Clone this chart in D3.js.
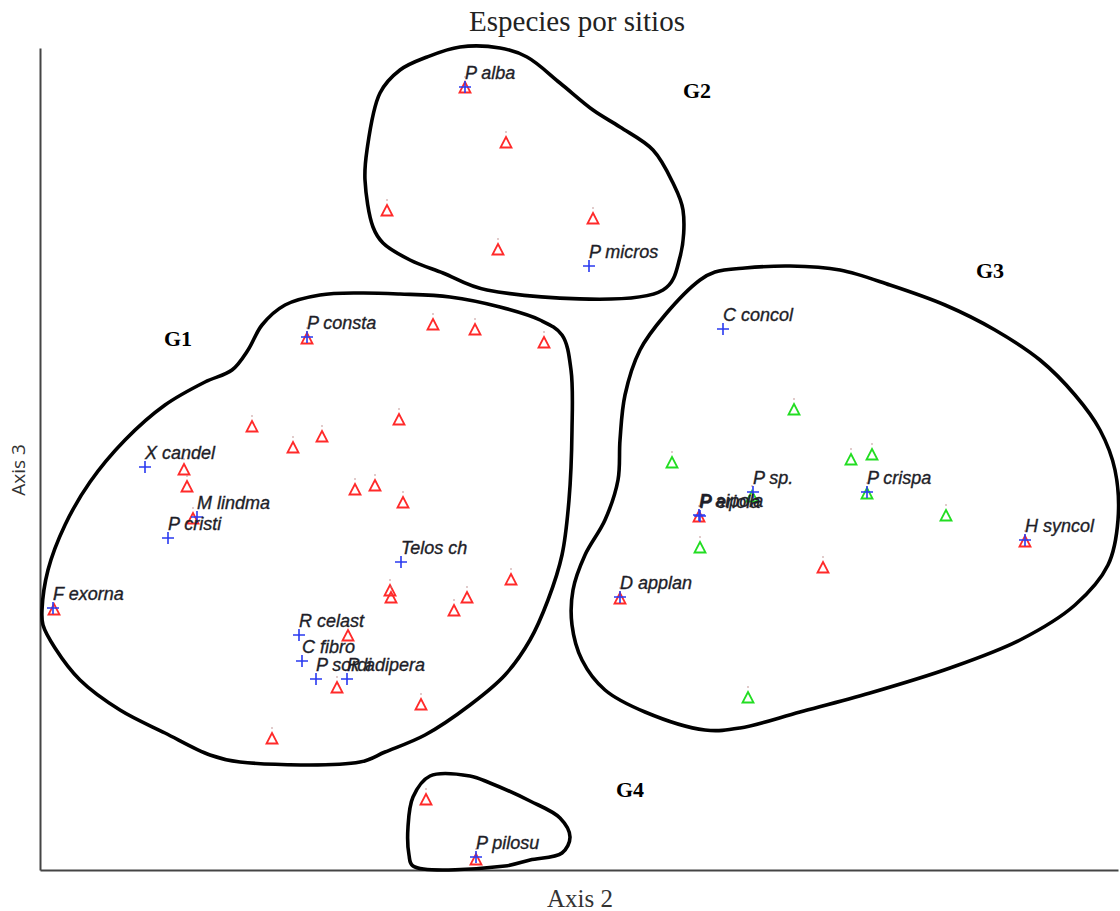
<!DOCTYPE html>
<html>
<head>
<meta charset="utf-8">
<script src="https://cdn.jsdelivr.net/npm/d3@7"></script>
<style>
  html, body { margin: 0; padding: 0; background: #fff; }
  svg { display: block; }
</style>
</head>
<body>
<svg id="chart" width="1120" height="911"></svg>
<script>
// Ordination scores (Axis 2, Axis 3)

// Sample sites, by colour class
const siteX = [2.125, 2.33, 1.735, 2.765, 2.29, 1.335, 1.965, 2.175, 2.52, 1.06, 1.265, 1.41, 1.795,
  0.72, 0.735, 1.575, 1.675, 1.815, 0.765, 2.355, 1.75, 1.755, 2.135, 2.07, 0.07, 1.54, 1.485, 1.905,
  1.16, 1.93, 2.18, 3.295, 4.925, 3.915, 2.90,
  3.77, 3.16, 4.055, 4.16, 4.53, 3.30, 3.54, 3.56, 4.135];
const siteY = [3.91, 3.635, 3.295, 3.255, 3.10, 2.655, 2.725, 2.70, 2.635, 2.215, 2.11, 2.165, 2.25,
  2.00, 1.915, 1.90, 1.92, 1.835, 1.755, 1.45, 1.395, 1.36, 1.36, 1.295, 1.30, 1.17, 0.91, 0.825,
  0.655, 0.35, 0.05, 1.765, 1.64, 1.51, 1.355,
  2.30, 2.035, 2.05, 2.075, 1.77, 1.61, 0.86, 1.865, 1.88];
const siteClass = ["a","a","a","a","a","a","a","a","a","a","a","a","a",
  "a","a","a","a","a","a","a","a","a","a","a","a","a","a","a",
  "a","a","a","a","a","a","a",
  "b","b","b","b","b","b","b","b","b"];

// Species
const speciesNames = ["P alba", "P micros", "P consta", "X candel", "M lindma", "P cristi", "Telos ch",
  "F exorna", "R celast", "C fibro", "P sordi", "R adipera", "P pilosu", "C concol", "P sp.",
  "P crispa", "P aipola", "P eriola", "H syncol", "D applan"];
const speciesX = [2.125, 2.745, 1.335, 0.525, 0.785, 0.64, 1.805, 0.065, 1.295, 1.31, 1.38, 1.535,
  2.18, 3.415, 3.565, 4.135, 3.295, 3.30, 4.925, 2.90];
const speciesY = [3.915, 3.02, 2.665, 2.015, 1.765, 1.66, 1.54, 1.31, 1.175, 1.045, 0.955, 0.955,
  0.065, 2.705, 1.89, 1.89, 1.775, 1.77, 1.65, 1.365];

// Group outlines
const groupNames = ["G1", "G2", "G3", "G4"];
const groupLabelX = [0.69, 3.285, 4.75, 2.95];
const groupLabelY = [2.66, 3.90, 3.00, 0.405];
const g1Outline = [[0.01,1.30],[0.04,1.50],[0.125,1.725],[0.25,1.94],[0.425,2.15],[0.625,2.325],
  [0.825,2.44],[0.96,2.50],[1.04,2.60],[1.11,2.725],[1.225,2.825],[1.40,2.875],[1.60,2.885],
  [1.80,2.88],[2.05,2.865],[2.30,2.815],[2.50,2.75],[2.61,2.675],[2.655,2.50],[2.66,2.20],
  [2.645,1.85],[2.61,1.575],[2.54,1.35],[2.45,1.15],[2.325,0.975],[2.15,0.825],[1.925,0.675],
  [1.725,0.59],[1.60,0.54],[1.00,0.54],[0.85,0.575],[0.625,0.685],[0.40,0.80],[0.20,0.95],
  [0.075,1.11],[0.015,1.225]];
const g2Outline = [[1.70,3.885],[1.635,3.60],[1.625,3.45],[1.665,3.215],[1.715,3.135],[1.85,3.05],
  [2.015,2.985],[2.235,2.90],[3.115,2.90],[3.20,3.065],[3.215,3.30],[3.165,3.435],[3.065,3.60],
  [2.90,3.715],[2.765,3.80],[2.60,3.935],[2.435,4.065],[2.30,4.11],[2.10,4.115],[1.935,4.065],
  [1.80,4.00]];
const g3Outline = [[3.30,2.95],[3.125,2.775],[3.00,2.60],[2.925,2.375],[2.90,2.15],[2.89,1.95],
  [2.825,1.75],[2.725,1.575],[2.665,1.40],[2.66,1.225],[2.71,1.05],[2.825,0.90],[3.025,0.79],
  [3.325,0.70],[3.50,0.71],[3.80,0.79],[4.15,0.885],[4.55,1.01],[4.90,1.15],[5.175,1.325],
  [5.34,1.525],[5.39,1.75],[5.375,2.00],[5.30,2.20],[5.175,2.375],[5.00,2.55],[4.775,2.70],
  [4.525,2.825],[4.25,2.925],[4.00,3.00],[3.75,3.02],[3.525,3.01],[3.375,2.99]];
const g4Outline = [[1.865,0.365],[1.95,0.47],[2.15,0.47],[2.25,0.435],[2.45,0.345],[2.60,0.26],
  [2.65,0.165],[2.61,0.085],[2.45,0.05],[2.325,0.02],[1.865,0.02],[1.845,0.075],[1.84,0.215]];

const svg = d3.select("#chart");
const margin = { left: 40, right: 2, top: 48, bottom: 41 };
const W = 1120, H = 911;

const x = d3.scaleLinear().domain([0, 5.39]).range([margin.left, W - margin.right]);
const y = d3.scaleLinear().domain([0, 4.11]).range([H - margin.bottom, margin.top]);

// Title and axis titles
svg.append("text")
  .attr("x", 577).attr("y", 31)
  .attr("text-anchor", "middle")
  .attr("font-family", "'Liberation Serif', 'DejaVu Serif', serif")
  .attr("font-size", 29)
  .attr("fill", "#222")
  .text("Especies por sitios");

svg.append("text")
  .attr("x", 580).attr("y", 907)
  .attr("text-anchor", "middle")
  .attr("font-family", "'Liberation Serif', 'DejaVu Serif', serif")
  .attr("font-size", 25)
  .attr("fill", "#333")
  .text("Axis 2");

svg.append("text")
  .attr("transform", "translate(25,470) rotate(-90)")
  .attr("text-anchor", "middle")
  .attr("font-family", "'Open Sans', 'Liberation Sans', sans-serif")
  .attr("font-size", 19)
  .attr("fill", "#333")
  .text("Axis 3");

// Axis lines (no ticks)
const xAxis = d3.axisBottom(x).tickValues([]).tickSizeOuter(0);
const yAxis = d3.axisLeft(y).tickValues([]).tickSizeOuter(0);
svg.append("g").attr("transform", `translate(0,${y(0)})`).call(xAxis)
  .select(".domain").attr("stroke", "#444").attr("stroke-width", 2);
svg.append("g").attr("transform", `translate(${x(0)},0)`).call(yAxis)
  .select(".domain").attr("stroke", "#444").attr("stroke-width", 2);

// Group outlines
const outline = d3.line()
  .x(d => x(d[0])).y(d => y(d[1]))
  .curve(d3.curveCatmullRomClosed.alpha(0.5));
svg.append("g").selectAll("path")
  .data([g1Outline, g2Outline, g3Outline, g4Outline])
  .join("path")
  .attr("d", outline)
  .attr("fill", "none")
  .attr("stroke", "#000")
  .attr("stroke-width", 3.6)
  .attr("stroke-linejoin", "round");

// Group labels
svg.append("g").selectAll("text")
  .data(groupNames)
  .join("text")
  .attr("x", (d, i) => x(groupLabelX[i]))
  .attr("y", (d, i) => y(groupLabelY[i]))
  .attr("dy", "0.35em")
  .attr("text-anchor", "middle")
  .attr("font-family", "'Liberation Serif', 'DejaVu Serif', serif")
  .attr("font-weight", "bold")
  .attr("font-size", 22)
  .attr("fill", "#000")
  .text(d => d);

// Sites: open triangles with a small point above
const siteColor = { a: "#ff2a2a", b: "#22dd22" };
const sites = svg.append("g").selectAll("g")
  .data(siteX.map((v, i) => ({ x: v, y: siteY[i], c: siteClass[i] })))
  .join("g")
  .attr("transform", d => `translate(${x(d.x)},${y(d.y)})`);
sites.append("path")
  .attr("d", "M0,-6 L5.5,4.5 L-5.5,4.5 Z")
  .attr("fill", "none")
  .attr("stroke", d => siteColor[d.c])
  .attr("stroke-width", 1.8);
sites.append("circle")
  .attr("cy", -11).attr("r", 0.8)
  .attr("fill", "#b88");

// Species: blue crosses with italic labels
const sp = svg.append("g").selectAll("g")
  .data(speciesNames.map((n, i) => ({ n, x: speciesX[i], y: speciesY[i] })))
  .join("g")
  .attr("transform", d => `translate(${x(d.x)},${y(d.y)})`);
sp.append("path")
  .attr("d", "M-6,0 H6 M0,-6 V6")
  .attr("stroke", "#2a3af0")
  .attr("stroke-width", 1.6);
sp.append("text")
  .attr("x", 0).attr("y", -8)
  .attr("font-family", "'Liberation Sans', Arial, sans-serif")
  .attr("font-style", "italic")
  .attr("font-size", 18)
  .attr("fill", "#1e1e28")
  .attr("stroke", "#1e1e28")
  .attr("stroke-width", 0.35)
  .text(d => d.n);
</script>
</body>
</html>
